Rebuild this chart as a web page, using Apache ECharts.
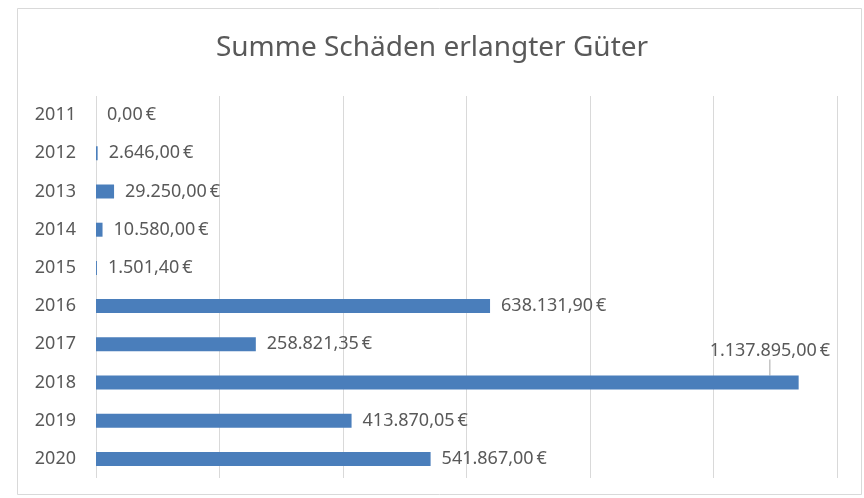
<!DOCTYPE html>
<html>
<head>
<meta charset="utf-8">
<script src="https://cdn.jsdelivr.net/npm/echarts@6/dist/echarts.min.js"></script>
<style>
  html, body { margin: 0; padding: 0; background: #fff; }
  #chart { width: 864px; height: 498px; }
</style>
</head>
<body>
<div id="chart"></div>
<script>
// Jahre (von oben nach unten)
var years = ['2011', '2012', '2013', '2014', '2015', '2016', '2017', '2018', '2019', '2020'];
// Summe Schäden in Euro
var damages = [0, 2646, 29250, 10580, 1501.4, 638131.9, 258821.35, 1137895, 413870.05, 541867];
// x-Achse (Werte nicht beschriftet)
var axisMax = 1200000;
var axisStep = 200000;
// Jahr, dessen Beschriftung mit Hinweislinie über dem Balken steht
var movedLabelYear = '2018';

// deutsches Zahlenformat: 1.137.895,00 €
function euro(v) {
  var parts = v.toFixed(2).split('.');
  var intPart = parts[0].replace(/\B(?=(\d{3})+(?!\d))/g, '.');
  return intPart + ',' + parts[1] + '\u2009€';
}

var chart = echarts.init(document.getElementById('chart'));
var textColor = '#595959';
var font = '"Noto Sans", "Open Sans", sans-serif';
var movedIdx = years.indexOf(movedLabelYear);

var barData = damages.map(function (v, i) {
  if (i === movedIdx) {
    return { value: v, labelLine: { show: true } };
  }
  return v;
});

chart.setOption({
  backgroundColor: '#fff',
  animation: false,
  textStyle: { fontFamily: font },
  graphic: [{
    type: 'rect', // Rahmen um das Diagramm
    shape: { x: 17.5, y: 8.5, width: 844, height: 486 },
    style: { fill: 'none', stroke: '#d9d9d9', lineWidth: 1 },
    silent: true
  }],
  title: {
    text: 'Summe Schäden erlangter Güter',
    left: 'center',
    top: 29,
    textStyle: { color: textColor, fontSize: 28, fontWeight: 'normal', fontFamily: font }
  },
  grid: { left: 96, right: 27, top: 96, bottom: 20, containLabel: false },
  xAxis: {
    type: 'value',
    min: 0,
    max: axisMax,
    interval: axisStep,
    axisLabel: { show: false },
    axisLine: { show: false },
    axisTick: { show: false },
    splitLine: { show: true, lineStyle: { color: '#d9d9d9', width: 1 } }
  },
  yAxis: {
    type: 'category',
    data: years,
    inverse: true,
    axisLine: { show: false },
    axisTick: { show: false },
    axisLabel: { color: textColor, fontSize: 18, margin: 20, fontFamily: font }
  },
  series: [{
    type: 'bar',
    data: barData,
    barWidth: 14,
    itemStyle: { color: '#4a7ebb' },
    label: {
      show: true,
      position: 'right',
      distance: 11,
      color: textColor,
      fontSize: 18,
      fontFamily: font,
      formatter: function (p) { return euro(p.value); }
    },
    labelLine: { show: false, lineStyle: { color: '#a6a6a6', width: 1 } },
    labelLayout: function (p) {
      if (p.dataIndex === movedIdx) {
        return { dx: -100, dy: -32 };
      }
      return {};
    }
  }]
});
</script>
</body>
</html>
